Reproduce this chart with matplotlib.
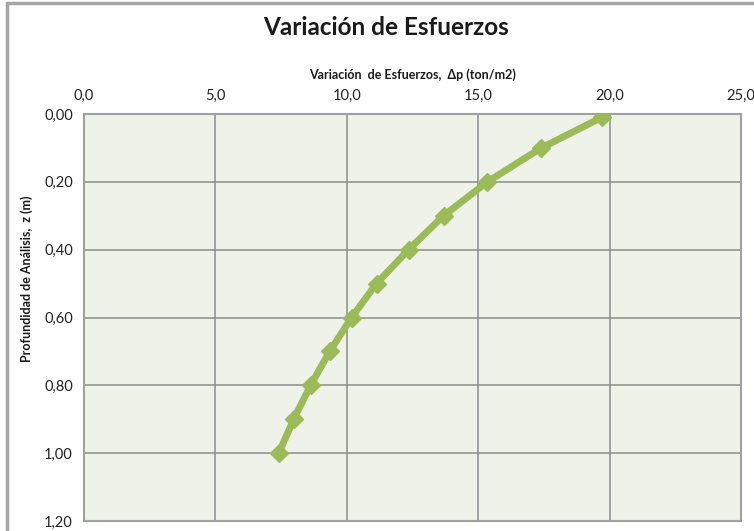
import matplotlib.pyplot as plt
from matplotlib.ticker import FuncFormatter, MultipleLocator
from matplotlib.patches import Rectangle

# Profundidad de análisis (m) y variación de esfuerzos (ton/m2)
profundidad = [0.01, 0.10, 0.20, 0.30, 0.40, 0.50, 0.60, 0.70, 0.80, 0.90, 1.00]
esfuerzo = [19.7, 17.4, 15.35, 13.68, 12.35, 11.13, 10.18, 9.35, 8.62, 7.98, 7.41]

VERDE = '#9bbb59'
FUENTE = ['Lato', 'DejaVu Sans']

plt.rcParams['font.family'] = FUENTE

fig = plt.figure(figsize=(7.54, 5.31), dpi=100)
ax = fig.add_axes([0.1114, 0.0188, 0.8714, 0.7665])

# marco exterior del gráfico
fig.patches.append(Rectangle((0.0095, -0.05), 1.1, 1.044, transform=fig.transFigure,
                             fill=False, edgecolor='#a6a6a6', linewidth=2.5))

ax.set_facecolor('#eff2e9')
ax.plot(esfuerzo, profundidad, color=VERDE, linewidth=5, marker='D',
        markersize=9, markerfacecolor=VERDE, markeredgecolor=VERDE, zorder=3)

ax.set_xlim(0, 25)
ax.set_ylim(1.2, 0)
ax.xaxis.set_major_locator(MultipleLocator(5))
ax.yaxis.set_major_locator(MultipleLocator(0.2))
ax.xaxis.set_major_formatter(FuncFormatter(lambda v, p: f'{v:.1f}'.replace('.', ',')))
ax.yaxis.set_major_formatter(FuncFormatter(lambda v, p: f'{v:.2f}'.replace('.', ',')))
ax.xaxis.tick_top()
ax.tick_params(axis='both', length=0, labelsize=10.5, colors='#222222')
ax.tick_params(axis='x', pad=8)
ax.tick_params(axis='y', pad=8)
ax.grid(True, color='#8c8c8c', linewidth=1.1)
ax.set_axisbelow(True)
for s in ax.spines.values():
    s.set_color('#a0a0a0')
    s.set_linewidth(1.5)

fig.text(0.512, 0.948, 'Variación de Esfuerzos', ha='center', va='center',
         fontsize=17.5, fontweight='bold', color='#1a1a1a')
fig.text(0.547, 0.859, 'Variación  de Esfuerzos,  Δp (ton/m2)', ha='center', va='center',
         fontsize=9, fontweight='bold', color='#1a1a1a')
fig.text(0.036, 0.475, 'Profundidad de Análisis,  z (m)', ha='center', va='center',
         rotation=90, fontsize=9, fontweight='bold', color='#1a1a1a')

fig.savefig('out.png', dpi=100)
